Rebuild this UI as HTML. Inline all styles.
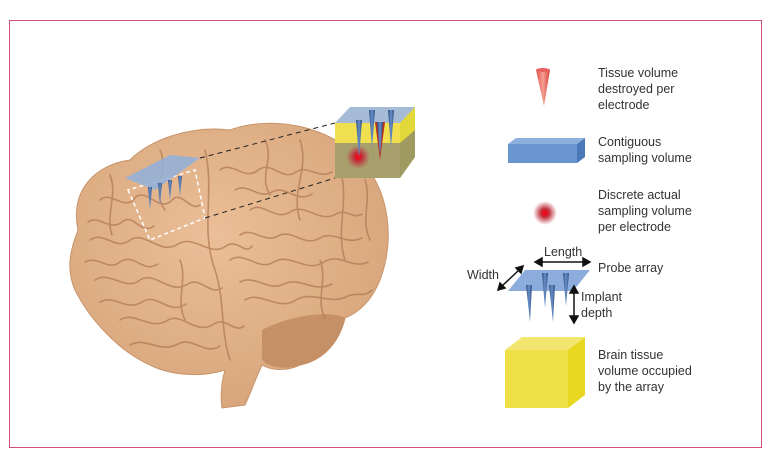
<!DOCTYPE html>
<html><head><style>
body{margin:0;background:#fff;}
svg{display:block;font-family:"Liberation Sans",sans-serif;}
</style></head><body>
<svg width="772" height="460" viewBox="0 0 772 460">
<defs>
<radialGradient id="rd"><stop offset="0" stop-color="#e0102a"/><stop offset="0.35" stop-color="#c0303a"/><stop offset="1" stop-color="#c04050" stop-opacity="0"/></radialGradient>
<radialGradient id="br" cx="0.45" cy="0.4" r="0.6"><stop offset="0" stop-color="#ebbf98"/><stop offset="1" stop-color="#d8a67c"/></radialGradient>
<linearGradient id="cone" x1="0" x2="1"><stop offset="0" stop-color="#e0504a"/><stop offset="0.5" stop-color="#f4a090"/><stop offset="1" stop-color="#d84040"/></linearGradient>
<linearGradient id="nd" x1="0" x2="1"><stop offset="0" stop-color="#2a4a80"/><stop offset="0.5" stop-color="#6a90c8"/><stop offset="1" stop-color="#2a4a80"/></linearGradient>
</defs>
<rect x="9.5" y="20.5" width="752" height="427" fill="#fff" stroke="#d0507a" stroke-width="1"/>
<!-- brain -->
<path d="M78,230 C70,190 95,165 130,160 C150,140 190,125 230,130 C270,115 330,125 360,160 C390,190 395,240 380,280 C372,300 360,312 345,318 C340,340 325,360 300,365 C285,372 270,370 262,365 C255,380 250,395 245,405 L222,408 C220,395 222,380 225,370 C200,378 170,375 150,365 C120,352 90,320 75,290 C66,270 70,250 78,230 Z" fill="url(#br)" stroke="#c9946a" stroke-width="1"/>
<path d="M262,330 C290,315 330,310 345,318 C340,340 325,360 300,365 C285,370 270,368 262,360 Z" fill="#c08a60" opacity="0.8"/>
<g fill="none" stroke="#b27a55" stroke-width="1.6" opacity="0.75" stroke-linecap="round">
<path d="M100,200 C110,190 125,212 135,198 C145,186 160,214 172,200 C182,190 190,212 200,205"/>
<path d="M88,222 C98,214 110,232 122,222 C134,212 140,236 154,226"/>
<path d="M90,240 C105,230 115,252 130,240 C145,230 160,256 178,244 C195,234 210,258 226,246 C238,238 245,256 252,246"/>
<path d="M85,262 C98,255 108,272 120,262 C135,252 142,274 158,264"/>
<path d="M95,280 C110,270 125,292 140,280 C155,270 170,296 188,284 C200,276 210,296 222,288"/>
<path d="M100,302 C115,294 126,312 142,302 C158,292 168,316 186,304"/>
<path d="M120,320 C135,310 150,332 168,320 C182,312 196,336 214,324 C226,316 234,334 244,326"/>
<path d="M130,345 C145,336 160,354 178,344 C192,336 206,356 220,346"/>
<path d="M220,170 C232,160 245,182 258,170 C272,160 282,182 296,172 C308,164 318,180 332,172"/>
<path d="M235,190 C248,182 258,200 272,192 C286,184 296,204 312,194"/>
<path d="M250,210 C262,200 275,222 290,212 C305,202 320,224 336,214 C346,208 354,220 362,214"/>
<path d="M240,235 C252,226 264,244 278,236 C292,228 304,248 320,238 C334,230 346,246 362,238"/>
<path d="M230,260 C245,250 258,272 274,262 C290,252 306,274 324,262 C340,252 352,270 368,262"/>
<path d="M240,282 C255,274 268,292 284,284 C300,276 314,294 332,284"/>
<path d="M245,300 C260,290 278,312 296,300 C312,290 330,306 348,296 C356,292 364,298 372,290"/>
<path d="M205,150 C215,190 200,230 215,270 C225,300 220,330 230,360"/>
<path d="M160,150 C170,170 150,190 165,210"/><path d="M300,140 C310,170 290,190 300,220"/>
<path d="M340,170 C350,200 335,230 345,260"/><path d="M265,140 C275,160 258,175 270,195"/>
<path d="M110,175 C118,195 105,215 112,235"/><path d="M365,180 C372,200 360,220 370,240"/>
<path d="M180,260 C188,280 175,300 185,320"/><path d="M320,260 C328,280 315,300 325,318"/>
</g>
<!-- dashed region on brain -->
<path d="M128,190 L150,240 L205,218 L195,170 Z" fill="none" stroke="#fff" stroke-width="1.5" stroke-dasharray="4,3"/>
<path d="M125,178 L170,155 L200,158 L155,190 Z" fill="#8fb0dc" opacity="0.85"/>
<g fill="url(#nd)"><polygon points="148,187 152,187 150,210"/><polygon points="158,183 162,183 160,205"/><polygon points="168,180 172,180 170,200"/><polygon points="178,176 182,176 180,196"/></g>
<!-- dashed connectors -->
<line x1="200" y1="158" x2="335" y2="123" stroke="#222" stroke-dasharray="5,4"/>
<line x1="205" y1="218" x2="335" y2="178" stroke="#222" stroke-dasharray="5,4"/>
<!-- inset cube -->
<polygon points="335,123 350,107 415,107 400,123" fill="#a6bbd6"/>
<polygon points="400,123 415,107 415,157 400,178" fill="#e2d83a"/>
<polygon points="415,130 415,157 400,178 400,143" fill="#9e9a62"/>
<rect x="335" y="123" width="65" height="20" fill="#f0e050"/>
<rect x="335" y="143" width="65" height="35" fill="#a8a06c"/>
<circle cx="358" cy="157" r="12" fill="url(#rd)"/>
<circle cx="358" cy="157" r="3" fill="#e81020"/>
<polygon points="375,122 385,122 380,160" fill="#b83020"/>
<g fill="url(#nd)"><polygon points="356,120 362,120 359,158"/><polygon points="369,110 375,110 372,148"/><polygon points="377,122 383,122 380,155"/><polygon points="388,110 394,110 391,148"/></g>
<!-- legend icons -->
<polygon points="536,70 550,70 544,106" fill="url(#cone)"/>
<ellipse cx="543" cy="70" rx="7" ry="2" fill="#e86060"/>
<polygon points="508,144 516,138 585,138 577,144" fill="#8cb0dc"/>
<polygon points="577,144 585,138 585,157 577,163" fill="#4a78b8"/>
<rect x="508" y="144" width="69" height="19" fill="#6a96d0"/>
<circle cx="545" cy="213" r="12" fill="url(#rd)"/>
<circle cx="545" cy="213" r="3" fill="#e81020"/>
<polygon points="508,291 525,270 590,270 573,291" fill="#8cacdc"/>
<g fill="url(#nd)"><polygon points="526,285 532,285 530,322"/><polygon points="542,273 548,273 545,308"/><polygon points="549,285 555,285 553,322"/><polygon points="563,273 569,273 566,306"/></g>
<g stroke="#111" stroke-width="1.5" fill="#111">
<line x1="540" y1="262" x2="585" y2="262"/><polygon points="535,262 542,258 542,266"/><polygon points="590,262 583,258 583,266"/>
<line x1="502" y1="286" x2="519" y2="270"/><polygon points="498,290 500,283 505,288"/><polygon points="523,266 516,268 521,273"/>
<line x1="574" y1="291" x2="574" y2="318"/><polygon points="574,286 570,293 578,293"/><polygon points="574,323 570,316 578,316"/>
</g>
<polygon points="505,350 522,337 585,337 568,350" fill="#f2e670"/>
<polygon points="568,350 585,337 585,395 568,408" fill="#e8d820"/>
<rect x="505" y="350" width="63" height="58" fill="#f0e048"/>
<g font-size="12.5" fill="#333">
<text x="598" y="77">Tissue volume</text><text x="598" y="93">destroyed per</text><text x="598" y="109">electrode</text>
<text x="598" y="146">Contiguous</text><text x="598" y="162">sampling volume</text>
<text x="598" y="199">Discrete actual</text><text x="598" y="215">sampling volume</text><text x="598" y="231">per electrode</text>
<text x="544" y="256">Length</text><text x="467" y="279">Width</text>
<text x="598" y="272">Probe array</text>
<text x="581" y="301">Implant</text><text x="581" y="317">depth</text>
<text x="598" y="359">Brain tissue</text><text x="598" y="375">volume occupied</text><text x="598" y="391">by the array</text>
</g>
</svg>
</body></html>
